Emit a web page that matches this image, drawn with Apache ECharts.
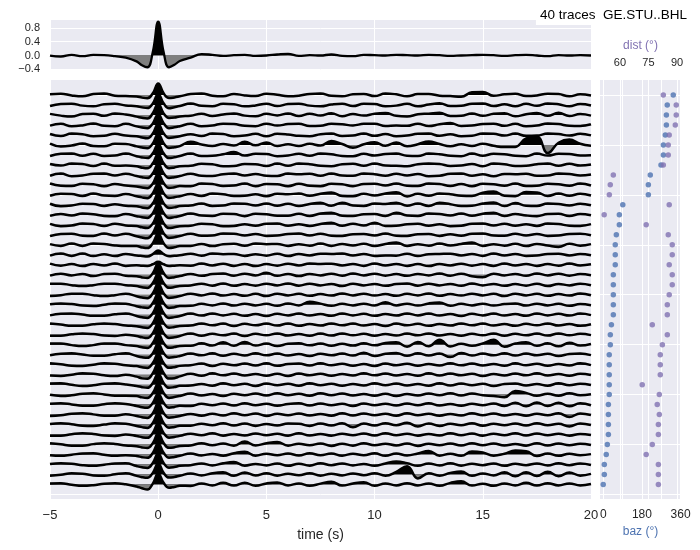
<!DOCTYPE html>
<html>
<head>
<meta charset="utf-8">
<script src="https://cdn.jsdelivr.net/npm/echarts@6/dist/echarts.min.js"></script>
<style>
  html, body { margin: 0; padding: 0; background: #fff; }
  #chart { width: 700px; height: 550px; }
</style>
</head>
<body>
<div id="chart"></div>
<script>
// sample times (s), denser around the direct P pulse
const times = [-5,-4.5,-4,-3.5,-3,-2.5,-2,-1.5,-1,-0.75,-0.5,-0.25,0,0.25,0.5,0.75,1,
  1.5,2,2.5,3,3.5,4,4.5,5,5.5,6,6.5,7,7.5,8,8.5,9,9.5,10,10.5,11,
  11.5,12,12.5,13,13.5,14,14.5,15,15.5,16,16.5,17,17.5,18,18.5,19,19.5,20];

// stacked receiver function, amplitude x100
const stackAmp = [0,-3,2,-2,2,1,-2,-6, -17,-28,-34,10,98,10,-34,-27,-16, -6,4,2,-1,1,2,-1,0,3,5, -1,1,0,3,-1,-2,2,1,0,2, 1,0,2,1,-1,0,1,2,1,-1, 1,2,0,-2,1,0,1,0];

// single traces, top to bottom, amplitude x100
const traceAmp = [
  [6,12,-4,-12,8,14,-6,-10, -14,-24,-30,15,105,15,-28,-22,-12, 8,14,-6,-12,10,-4,-10,12,2,-12, -6,10,14,-8,-12,6,10,-10,14,6, -12,8,10,-6,-10,-16,24,28,-8,6, 12,-10,-4,12,8,-12,6,-4],
  [-10,8,12,-6,-12,6,10,-4, -12,-22,-28,14,100,15,-30,-20,-10, 14,-8,-12,10,6,-12,-4,12,-10,8, 12,-6,-12,4,12,-10,10,8,-12,-6, 10,-12,4,16,-10,-8,12,14,-10,6, -12,10,-8,14,6,-12,8,-4],
  [10,-6,-14,8,12,-8,14,4, -15,-26,-32,15,102,14,-27,-24,-13, -8,12,-10,4,14,-6,-12,10,-4,14, -10,12,-6,16,-12,8,-6,12,18,-8, -14,6,12,20,-10,-8,14,-8,10,16, -12,6,18,-8,20,-10,8,-6],
  [-6,10,-12,-4,14,-8,-12,10, -13,-23,-29,14,98,16,-29,-21,-11, 10,-12,-6,12,8,-8,-12,12,-6,8, 12,-10,-8,10,6,-4,10,12,-10,-6, -8,12,-10,6,18,-10,-6,8,12,-8, 10,-12,-6,14,8,-8,-10,6],
  [8,-10,12,6,-12,-8,10,-6, -12,-24,-31,13,100,15,-28,-22,-12, 6,-10,12,8,-12,-6,10,-12,10,4, -8,-12,6,12,-10,-6,12,-8,8,-12, -6,10,12,-8,6,-12,-8,12,10,-6, 12,-8,-6,12,8,-6,10,-4],
  [12,-14,-6,12,-10,-12,10,8, -13,-24,-30,14,100,16,-28,-21,-11, 30,4,-10,8,-6,28,-4,22,-10,6, -10,10,-6,36,8,-26,6,24,-8,22, -12,6,32,8,-12,6,-10,10,-8,-20, -18,60,75,-74,20,50,10,-8],
  [-10,10,12,-8,10,-10,-6,12, -12,-23,-29,15,100,14,-29,-22,-10, 12,-10,-8,6,26,-6,10,8,-12,-6, 10,-8,12,6,-10,-12,10,-6,8,12, -8,-10,12,6,-8,-12,12,-8,10,6, -8,-12,12,-6,10,8,-6,-4],
  [8,-6,12,8,-10,12,-8,-6, -13,-25,-31,14,100,15,-30,-23,-12, -8,10,6,-12,-10,8,6,-10,12,-8, 12,6,-8,-12,6,10,-8,12,-6,-8, -12,6,12,8,-10,-6,8,-12,12,6, -10,-8,6,12,-8,10,-6,4],
  [-8,12,-12,-6,10,12,-6,10, -11,-22,-29,14,98,15,-28,-21,-11, 10,-8,-10,6,12,-6,8,-8,-10,12, 6,10,-8,12,-6,-8,12,6,-8,10, -6,8,-12,-8,10,12,-8,6,-12,8, 6,10,-8,-6,12,8,-6,4],
  [12,-8,-10,10,6,-12,8,-6, -14,-24,-30,13,100,16,-29,-22,-11, -12,12,8,-10,-6,12,-12,8,6,-12, 10,-8,-12,10,6,-12,8,10,-6,12, -8,-10,12,8,-10,8,-12,10,6,-8, 12,-10,-8,10,6,-8,12,-6],
  [-8,10,8,-10,12,-6,-10,8, -12,-23,-30,15,100,15,-29,-22,-12, 8,-10,12,6,-10,-8,6,-12,10,6, 12,-8,10,22,-10,-12,10,-6,12,24, -14,10,-8,12,6,-8,-10,20,30,-8, -12,26,22,-10,12,-8,10,-6],
  [10,-12,-6,10,8,-10,6,-8, -13,-24,-30,14,100,14,-28,-23,-11, -6,12,-10,-6,12,10,-6,12,-8,10, -10,8,18,-8,20,-6,-10,12,8,20, -8,12,-10,18,6,-10,-8,12,22,-10, 16,-8,-10,12,8,-6,10,-4],
  [-10,8,-6,12,6,-10,-12,8, -12,-22,-28,15,100,16,-29,-21,-10, 12,-6,-10,10,8,-12,10,6,-8,-8, 10,-10,12,20,-8,-10,6,8,-10,20, -6,-10,12,8,-6,12,-8,10,20,-10, 8,-6,-12,8,10,-10,8,-4],
  [8,-12,-6,12,8,-10,10,-6, -11,-23,-29,13,100,15,-30,-22,-12, -8,10,6,-12,-10,6,-8,10,12,-8, 6,-10,8,18,-8,10,-6,20,-10,-8, 6,10,-8,6,-12,-8,10,12,-6,10, -8,6,-10,12,8,-8,-10,6],
  [-12,8,10,-8,-10,12,-6,10, -13,-25,-31,14,100,15,-28,-22,-11, 10,-8,-6,12,10,-6,8,-10,-6,8, 12,-6,10,-8,-10,6,8,-6,12,-8, -10,6,8,-10,6,-8,10,12,-6,-8, 10,-6,8,-10,-6,8,10,-4],
  [6,-10,12,-10,12,8,-6,-12, -12,-24,-30,15,100,14,-29,-23,-11, -10,8,-12,6,10,-8,12,6,8,-10, 6,-8,12,-10,8,-6,10,-12,8,22, -10,6,-8,12,-6,8,20,-10,6,-8, 10,-12,8,-6,-20,10,-8,6],
  [-8,12,-10,12,-12,6,-12,8, -6,-11,-15,6,40,6,-13,-9,-5, 10,-8,12,6,8,-10,6,-8,10,-12, 8,-6,10,8,12,-6,8,-10,-6,-8, 10,-12,6,8,10,-6,8,-10,12,-6, 8,-10,-6,8,10,-6,8,-4],
  [10,-8,6,-12,8,-6,12,-10, -5,-9,-11,5,28,5,-11,-8,-5, -8,12,-6,10,-10,8,-12,6,-8,10, -6,12,8,10,-6,8,-10,12,-6,8, -10,6,-12,8,-6,10,-8,6,-10,12, -6,8,-10,6,-8,12,-6,4],
  [-8,10,-6,8,-12,6,10,-8, -13,-24,-30,14,100,15,-29,-22,-12, 8,-10,6,12,-8,10,-6,18,-10,8, -12,8,-6,10,-8,12,-6,10,-8,6, -10,8,-6,12,-8,10,-14,-22,10,-6, 8,-10,12,-6,10,-8,6,-4],
  [10,10,-4,-12,-4,10,10,-4, -12,-23,-29,15,100,16,-28,-21,-11, -6,10,-8,12,-10,6,-8,10,-6,12, -8,10,-6,8,-12,10,-6,8,-10,6, 12,-8,10,-6,8,-10,12,-6,8,-10, 6,-8,10,-12,8,-6,10,-4],
  [-12,-4,10,10,-4,-12,-4,10, -14,-25,-31,13,100,14,-29,-23,-12, 10,-6,12,-8,6,-10,8,-12,10,-6, 8,-10,6,-8,12,-6,10,-8,6,-10, 8,-6,12,-10,6,-8,10,-6,8,-12, 10,-6,8,-10,6,-8,12,-4],
  [4,12,6,-8,-12,0,12,8, -13,-24,-30,15,100,15,-29,-22,-11, -10,8,-6,12,-8,10,-6,8,-10,12, -6,28,10,-10,8,-6,10,-8,22,-6, 10,-8,12,20,-10,8,-6,10,-8,6, 12,-8,10,-6,8,-10,6,-4],
  [-6,8,12,2,-10,-10,4,12, -12,-23,-29,14,100,15,-30,-22,-12, 10,-8,12,-6,8,-10,6,-12,8,-6, 10,-8,6,-10,12,-6,8,-10,6,-8, 12,-6,10,-8,6,-12,8,-6,10,-8, 6,-10,12,-6,8,-8,10,-4],
  [12,2,-10,-10,4,12,6,-8, -13,-24,-30,13,100,16,-28,-21,-11, -8,12,-6,10,-12,8,-6,10,-8,12, -10,6,-8,12,-6,10,-8,6,-12,10, -6,8,-10,6,-8,12,-6,10,-8,6, -10,8,-6,12,-8,6,-10,4],
  [-10,-10,4,12,6,-8,-12,0, -12,-24,-31,14,100,14,-29,-23,-12, 12,-10,8,-6,10,-12,8,-6,12,-8, 6,-10,10,-8,12,-6,8,-10,6,-8, 10,-6,12,-8,6,-10,8,-6,12,-10, 8,-6,10,-8,12,-6,8,-4],
  [10,10,-4,-12,-4,10,10,-4, -13,-24,-30,15,100,15,-29,-22,-11, -10,12,-8,22,-10,24,-8,10,-12,8, 12,-6,10,-10,8,-8,12,-6,16,22, -18,24,-14,46,-16,8,-10,12,44,-18, 10,22,-10,12,-15,17,-8,6],
  [-6,8,12,2,-10,-10,4,12, -12,-23,-29,14,100,15,-28,-22,-12, 10,-6,12,-10,8,-8,12,-6,10,-8, 6,-12,8,-6,10,-8,18,-12,8,16, -10,12,-8,10,-22,16,-8,10,-6,12, -8,10,-6,8,-12,6,10,-4],
  [12,4,-10,-12,0,12,8,-6, -13,-24,-30,14,100,14,-29,-23,-11, -6,10,-12,8,-6,10,-8,12,-10,6, 10,-8,12,-6,8,-10,6,-12,10,-6, 8,-10,6,-8,12,-6,10,-8,6,-10, 12,-6,8,-10,6,-8,12,-4],
  [-8,-12,0,12,8,-6,-12,-2, -18,-34,-38,12,100,15,-36,-32,-16, 8,-10,12,-6,10,-8,6,-10,8,-12, 10,-6,8,-10,6,-8,12,-6,10,-8, 6,-10,12,-8,10,-6,8,-12,6,-8, 10,-6,12,-8,6,-10,8,-4],
  [10,12,-2,-12,-6,8,12,2, -12,-23,-29,15,100,15,-29,-22,-11, -8,6,-10,12,-6,8,-12,10,-6,8, -10,12,-6,8,-10,6,-8,12,-6,10, -8,6,-10,12,-8,10,-6,8,-12,6, 10,-8,6,-10,12,-6,8,-4],
  [-2,-12,-6,8,12,2,-10,-10, -13,-25,-30,14,100,15,-30,-22,-12, 10,-8,6,-12,8,-6,10,-8,12,-6, 8,-10,12,-6,10,-8,6,-10,8,-12, 6,-8,10,-6,12,-8,10,-6,-12,-24, 34,16,-11,8,-10,12,-6,4],
  [8,12,2,-10,-10,4,12,6, -12,-24,-29,15,100,16,-28,-21,-11, -12,8,-6,10,-8,12,-6,8,-10,6, 12,-8,10,-6,8,-12,10,-6,8,-8, 10,-6,12,-8,6,-10,8,-6,10,-12, 17,-15,19,-13,17,-15,12,-6],
  [-12,-6,8,12,2,-10,-10,4, -13,-24,-30,13,100,14,-29,-23,-12, 6,-10,8,-8,12,-6,10,-12,8,-6, 10,-8,6,-10,12,-8,10,-6,8,-10, 12,-6,8,-10,6,-8,12,-6,10,-8, 6,-10,8,-6,12,-22,10,-4],
  [6,12,4,-10,-12,0,12,8, -12,-23,-30,15,100,15,-29,-22,-11, -10,8,-6,12,-8,10,-12,6,-8,10, 8,-12,10,-8,12,-24,10,-8,12,-6, 16,-17,10,-12,8,-6,12,-10,8,-6, 10,-8,12,-6,8,-17,10,-4],
  [-10,-10,4,12,6,-8,-12,0, -13,-24,-30,14,100,15,-28,-22,-12, 8,-6,12,-10,6,-8,10,-6,8,-10, 12,-8,6,-10,8,-6,10,-8,12,-6, 8,-10,6,-8,12,-6,10,-10,8,-6, 12,-8,10,-6,8,-10,6,-4],
  [12,2,-10,-10,4,12,6,-8, -15,-26,-32,13,100,15,-30,-24,-13, -8,12,-6,10,-10,28,-8,12,24,-10, 8,-6,10,-12,8,-10,12,-6,8,-8, 10,-12,8,-6,10,-8,12,-6,10,-8, 6,-10,12,-8,10,-6,8,-4],
  [-6,-12,-2,10,12,-2,-12,-6, -13,-24,-30,15,100,16,-29,-22,-11, 10,-8,6,-10,12,26,-10,8,-6,10, -8,12,-6,10,-10,8,-6,12,-12,10, -8,10,32,-10,8,-12,28,18,-10,8, 36,30,-13,10,-12,8,-6,4],
  [4,12,8,-6,-12,-2,10,12, -14,-25,-31,14,100,14,-29,-23,-12, -6,10,-8,12,22,-10,6,-8,10,-12, 8,-10,12,-6,10,-8,6,-12,10,28, 13,-12,10,-8,12,-10,8,-6,10,-12, 8,-6,10,-8,12,-6,10,-4],
  [-10,-2,12,8,-8,-12,2,12, -12,-24,-30,15,100,15,-28,-22,-11, 10,-8,12,20,-12,18,-8,12,-10,8, -6,12,-10,8,-8,10,-6,12,-10,24, 76,-36,12,-10,15,28,-12,10,-8,21, -15,21,-13,25,-15,19,-10,6],
  [10,12,-2,-12,-6,8,12,2, -18,-34,-46,8,100,15,-30,-22,-11, -13,10,-8,15,-10,17,-12,10,19,-8, 10,-12,8,26,-10,10,21,-12,10,-8, 12,-8,10,-12,15,30,-10,8,-12,10, -8,15,-10,12,-8,10,-8,4]
];

// back azimuth and epicentral distance of each trace (deg)
const baz = [326,298,294,294,289,280,280,269,219,210,210,91,75,75,61,56,56,56,47,47,
  47,47,47,38,33,33,28,28,28,28,28,24,24,24,24,19,14,5,5,0];
const dist = [82.8,89.6,89.6,89.1,85.9,85.4,85.4,82.8,56.5,54.9,54.4,85.9,51.7,73.8,85.4,87.5,87.5,85.9,87.5,87.5,
  85.9,84.9,84.9,77.0,84.9,82.3,81.2,81.2,81.2,71.7,80.7,79.6,80.7,80.2,80.2,77.0,73.8,80.2,80.2,80.2];

const stackTicks = [-0.4, 0, 0.4, 0.8];
const rowTicks = [0, 5, 10, 15, 20, 25, 30, 35, 40];
const bazGrid = [0, 90, 180, 270, 360];
const bazLabels = [0, 180, 360];
const distTicks = [60, 75, 90];
const titleText = '40 traces  GE.STU..BHL';

const FONT = '"Liberation Sans", Arial, sans-serif';
const INK = '#262626';
const PANEL = '#EAEAF2';
const NEG = '#7f7f7f';
const BLUE = '#4C72B0';
const PURPLE = '#8172B2';
const TRACE_SCALE = 1.1;   // row spacings per unit amplitude
const SMOOTH = 0.45;

const minus = s => String(s).replace('-', '\u2212');
const white = { show: true, lineStyle: { color: '#fff', width: 1 } };

const series = [];
const visualMap = [];

// two-colour fill split at a baseline value (finite outer bounds so the gradient has stops)
function splitFill(seriesIndex, base, colAbove, colBelow) {
  return { type: 'piecewise', show: false, seriesIndex: seriesIndex, dimension: 1,
    pieces: [{ gte: base - 1000, lt: base, color: colAbove }, { gte: base, lte: base + 1000, color: colBelow }] };
}

// stack: filled area (black above zero, grey below) then the line
series.push({
  type: 'line', xAxisIndex: 0, yAxisIndex: 0, silent: true,
  data: times.map((t, i) => [t, stackAmp[i] / 100]),
  smooth: SMOOTH, symbol: 'none', lineStyle: { width: 0 },
  areaStyle: { opacity: 1, origin: 0 }
});
visualMap.push(splitFill(0, 0, NEG, '#000'));
series.push({
  type: 'line', xAxisIndex: 0, yAxisIndex: 0, silent: true,
  data: times.map((t, i) => [t, stackAmp[i] / 100]),
  smooth: SMOOTH, symbol: 'none', lineStyle: { color: '#000', width: 2.3 }
});

// single traces, each offset to its row
traceAmp.forEach((amp, k) => {
  const pts = times.map((t, i) => [t, k - amp[i] / 100 * TRACE_SCALE]);
  const idx = series.length;
  series.push({
    type: 'line', xAxisIndex: 1, yAxisIndex: 1, silent: true, data: pts,
    smooth: SMOOTH, symbol: 'none', lineStyle: { width: 0 },
    areaStyle: { opacity: 1, origin: k }
  });
  visualMap.push(splitFill(idx, k, '#000', NEG));
  series.push({
    type: 'line', xAxisIndex: 1, yAxisIndex: 1, silent: true, data: pts,
    smooth: SMOOTH, symbol: 'none', lineStyle: { color: '#000', width: 2.5 }
  });
});

series.push({
  type: 'scatter', xAxisIndex: 2, yAxisIndex: 2, silent: true,
  data: baz.map((b, k) => [b, k]), symbolSize: 5.5, itemStyle: { color: BLUE }
});
series.push({
  type: 'scatter', xAxisIndex: 3, yAxisIndex: 2, silent: true,
  data: dist.map((d, k) => [d, k]), symbolSize: 5.5, itemStyle: { color: PURPLE }
});

const hidden = { show: false };

const option = {
  animation: false,
  textStyle: { fontFamily: FONT },
  title: {
    text: titleText, right: 9, top: 4, padding: [4, 4, 3, 4],
    backgroundColor: '#fff', z: 20,
    textStyle: { fontSize: 13.5, fontWeight: 'normal', color: '#000', fontFamily: FONT }
  },
  grid: [
    { left: 50, top: 20, width: 541, height: 50, show: true, backgroundColor: PANEL, borderWidth: 0 },
    { left: 50, top: 80, width: 541, height: 419, show: true, backgroundColor: PANEL, borderWidth: 0 },
    { left: 600, top: 80, width: 81, height: 419, show: true, backgroundColor: PANEL, borderWidth: 0 }
  ],
  xAxis: [
    { gridIndex: 0, type: 'value', min: -5, max: 20, interval: 5,
      axisLine: hidden, axisTick: hidden, axisLabel: hidden, splitLine: white },
    { gridIndex: 1, type: 'value', min: -5, max: 20, interval: 5,
      axisLine: hidden, axisTick: hidden, splitLine: white,
      axisLabel: { color: INK, fontSize: 13, margin: 10, formatter: v => minus(v) },
      name: 'time (s)', nameLocation: 'middle', nameGap: 29,
      nameTextStyle: { color: INK, fontSize: 14 } },
    { gridIndex: 2, type: 'value', position: 'bottom', min: -15, max: 362,
      axisLine: hidden, splitLine: white,
      axisTick: { show: false, customValues: bazGrid },
      axisLabel: { color: INK, fontSize: 12, margin: 10, customValues: bazLabels },
      name: 'baz (°)', nameLocation: 'middle', nameGap: 26,
      nameTextStyle: { color: BLUE, fontSize: 12 } },
    { gridIndex: 2, type: 'value', position: 'top', min: 49.5, max: 92.1,
      axisLine: hidden, splitLine: white,
      axisTick: { show: false, customValues: distTicks },
      axisLabel: { color: INK, fontSize: 11, margin: 12, customValues: distTicks },
      name: 'dist (°)', nameLocation: 'middle', nameGap: 25,
      nameTextStyle: { color: PURPLE, fontSize: 12 } }
  ],
  yAxis: [
    { gridIndex: 0, type: 'value', min: -0.42, max: 1.03,
      axisLine: hidden, splitLine: white,
      axisTick: { show: false, customValues: stackTicks },
      axisLabel: { color: INK, fontSize: 11, margin: 10, customValues: stackTicks,
        formatter: v => minus(v.toFixed(1)) } },
    { gridIndex: 1, type: 'value', inverse: true, min: -1.5, max: 40.45,
      axisLine: hidden, axisLabel: hidden, splitLine: white,
      axisTick: { show: false, customValues: rowTicks } },
    { gridIndex: 2, type: 'value', inverse: true, min: -1.5, max: 40.45,
      axisLine: hidden, axisLabel: hidden, splitLine: white,
      axisTick: { show: false, customValues: rowTicks } }
  ],
  visualMap: visualMap,
  series: series
};

const chart = echarts.init(document.getElementById('chart'), null, { renderer: 'canvas' });
chart.setOption(option);
</script>
</body>
</html>
